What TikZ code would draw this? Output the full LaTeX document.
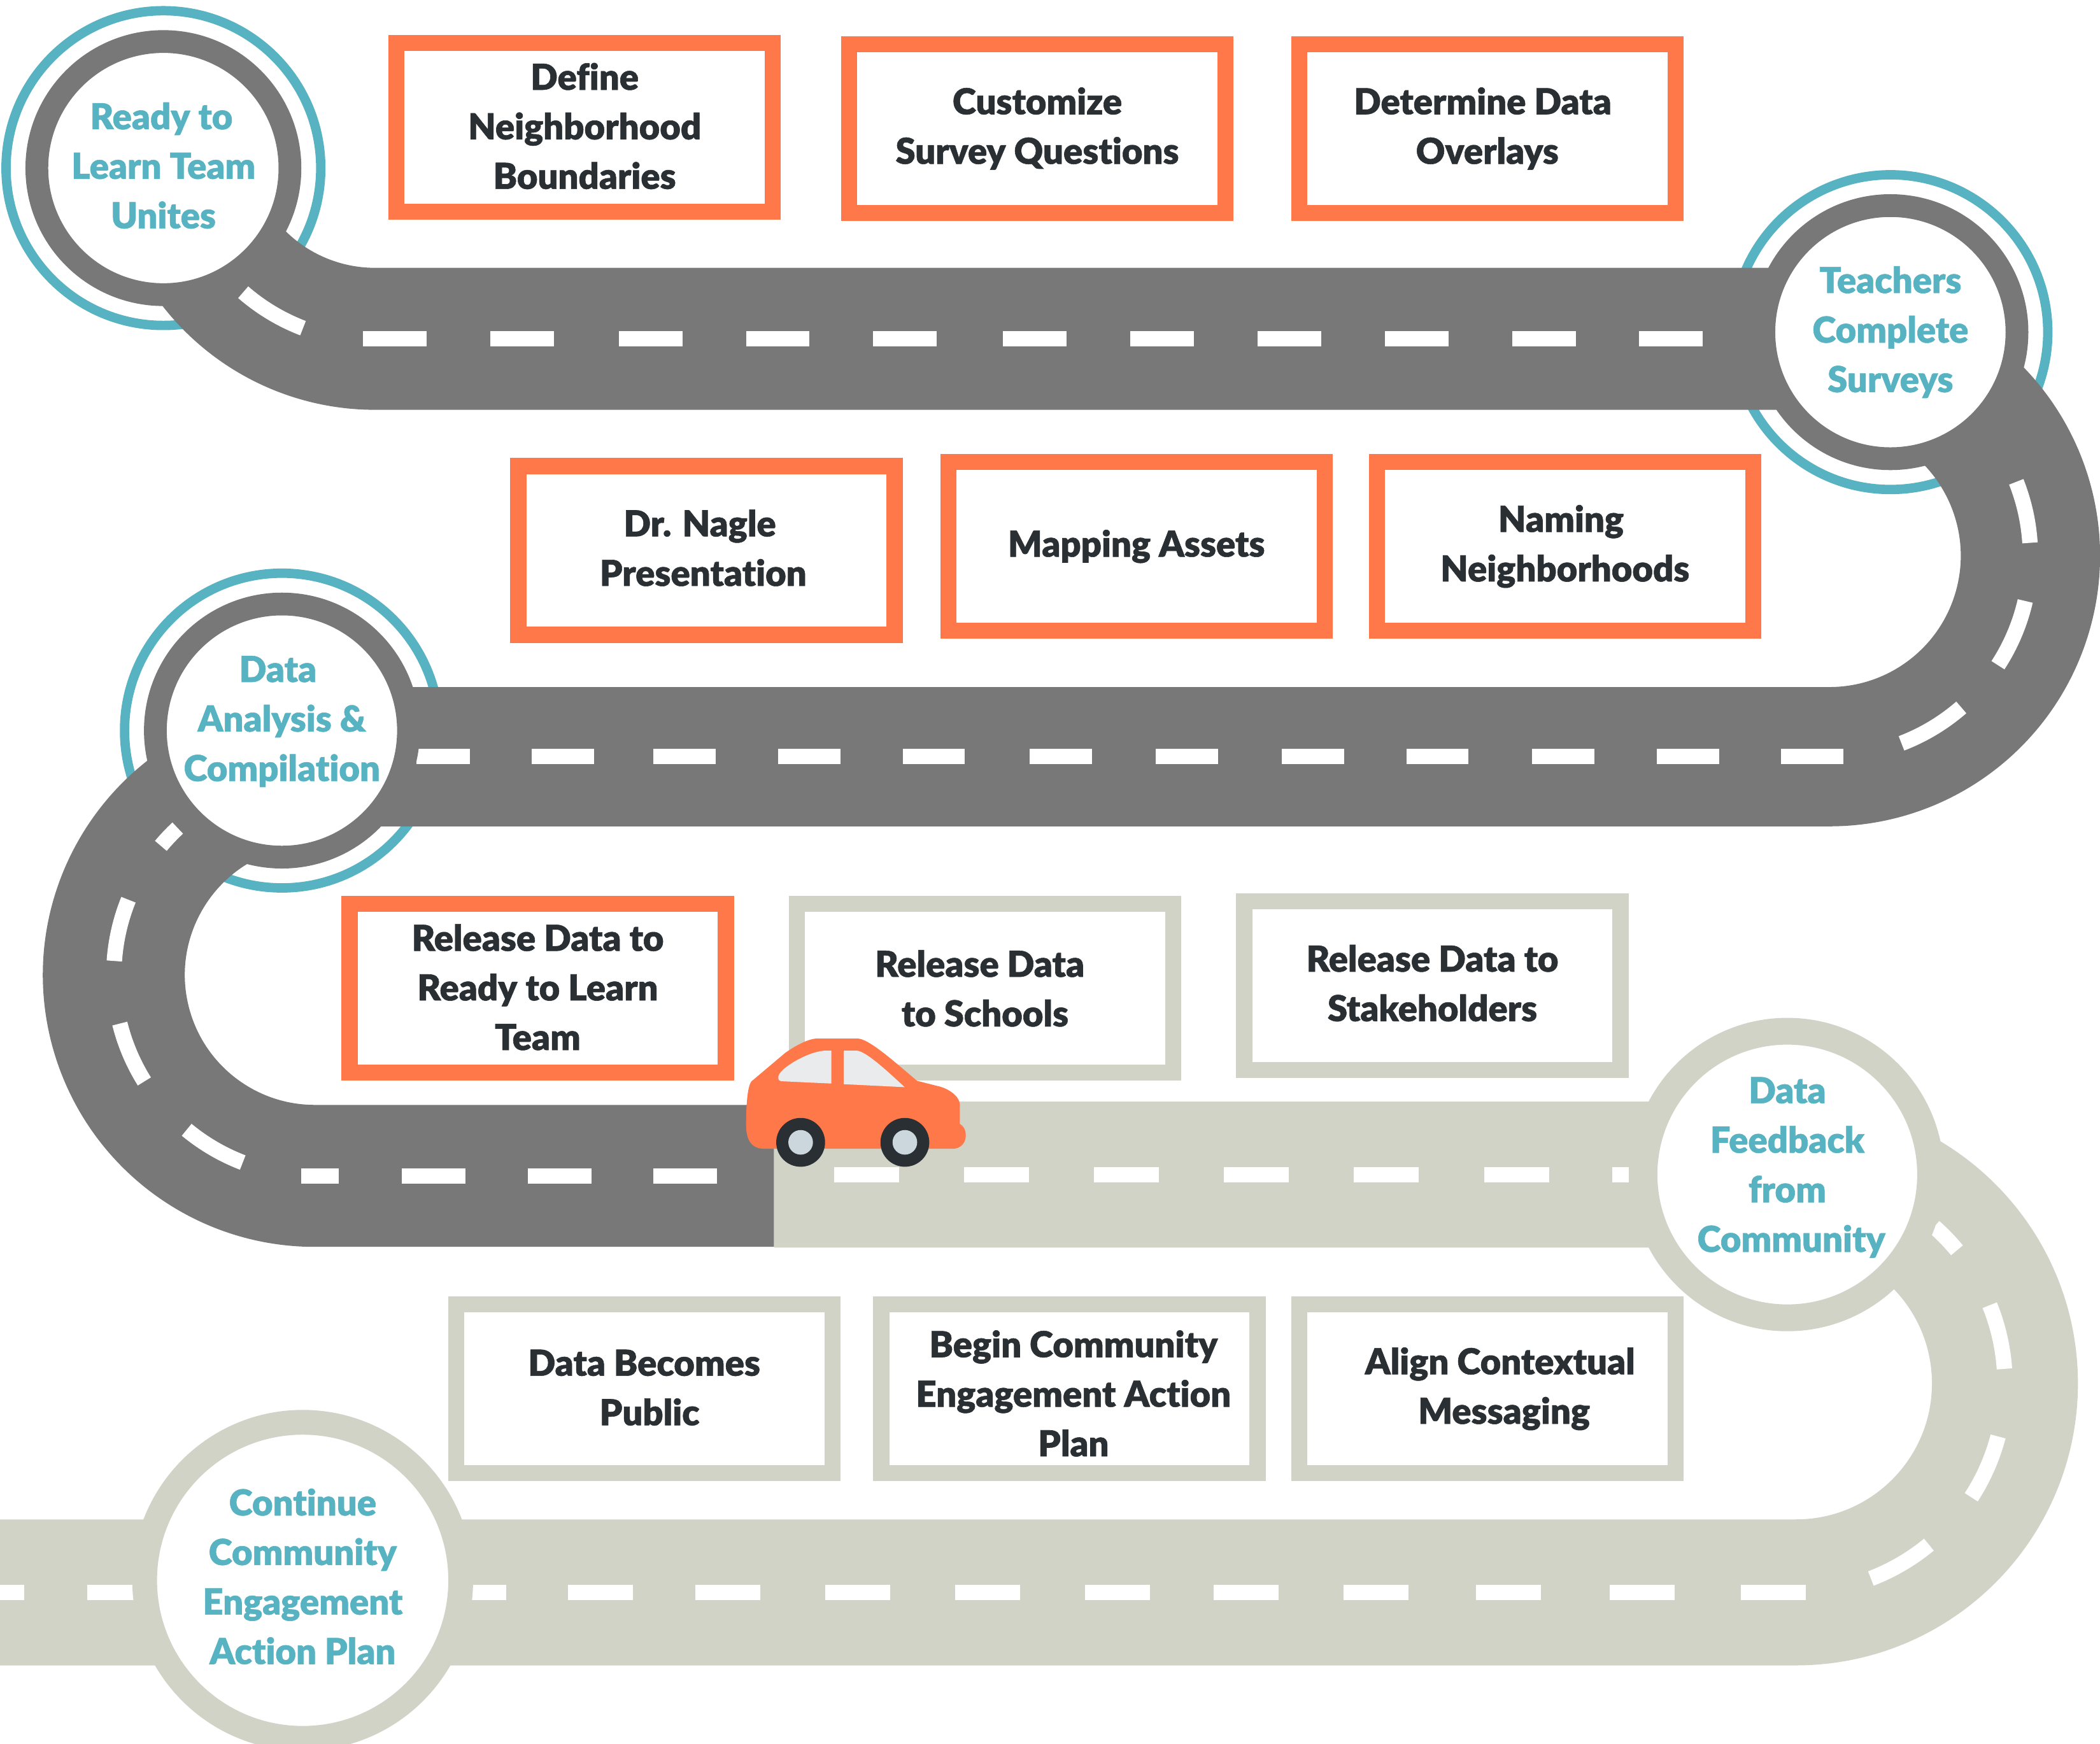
\documentclass[tikz,border=0pt]{standalone}
\usepackage{fontspec}
\setmainfont{Lato}[BoldFont={Lato Black},BoldFeatures={FakeBold=1},Ligatures=NoCommon]
\usetikzlibrary{
        backgrounds,
        calc
    }
\definecolor{roadgrey}{HTML}{787878}
\definecolor{roadsand}{HTML}{D1D3C7}
\definecolor{stopteal}{HTML}{57B2C1}
\definecolor{carorange}{HTML}{FF784A}
\definecolor{inkdark}{HTML}{292F33}
\definecolor{glass}{HTML}{E9EBED}
\definecolor{hubcap}{HTML}{CCD6DD}
\tikzset{x=1pt,y=1pt,line join=round}
\tikzset{road/.style={line width=#1},road/.default=106}
\tikzset{lane/.style={draw=white,line width=11.5}}
\tikzset{stop/.style={circle,fill=white,inner sep=0pt,text=stopteal,align=center,
        font=\bfseries\fontsize{26.7}{37}\selectfont}}
\tikzset{stopdone/.style={stop,draw=roadgrey,line width=17,minimum size=189}}
\tikzset{stopnext/.style={stop,draw=roadsand,line width=20,minimum size=214}}
\tikzset{halo/.style={circle,draw=stopteal,line width=7,minimum size=235,inner sep=0pt}}
\tikzset{task/.style={draw=#1,line width=12,fill=white,minimum width=281,minimum height=126,
        inner sep=0pt,text=inkdark,align=center,font=\bfseries\fontsize{26.7}{37}\selectfont}}
\newcommand{\nudge}[1]{\hspace*{#1pt}}
\newcommand{\lift}[1]{\rule[-#1pt]{0pt}{#1pt}}
\newcommand{\drop}[1]{\rule{0pt}{#1pt}}

\begin{document}
\begin{tikzpicture}[yscale=-1]
                        \useasboundingbox (0,0) rectangle (1568,1302);
                        \coordinate (bendA) at (280,105);
                        \coordinate (bendB) at (1366,415);
                        \coordinate (bendC) at (235,728);
                        \coordinate (bendD) at (1341,1033);
                        \coordinate (roadEnd) at (0,1189);
                        % stops
                        \node[stopdone] (ready) at (122,125.5) {\nudge{-3}Ready to\\Learn Team\\Unites\lift{4}};
                        \node[stopdone] (teachers) at (1411.5,248) {Teachers\\Complete\\Surveys};
                        \node[stopdone] (analysis) at (210.5,545.5) {\nudge{-6}Data\\Analysis \&\\Compilation\lift{18}};
                        \node[stopnext] (feedback) at (1334.5,877) {Data\\Feedback\\from\\\nudge{6}Community\lift{15}};
                        \node[stopnext,line width=18.5,minimum size=236] (community) at (226,1180) {Continue\\Community\\Engagement\\Action Plan\lift{6}};
                        % tasks
                        \node[task=carorange] (boundaries) at (436.5,95) {Define\\Neighborhood\\Boundaries\lift{2}};
                        \node[task=carorange] (questions) at (774.5,96) {Customize\\Survey Questions};
                        \node[task=carorange] (overlays) at (1110.5,96) {\nudge{-7}Determine Data\\Overlays};
                        \node[task=carorange] (nagle) at (527.5,411) {\nudge{-10}Dr. Nagle\\\nudge{-5}Presentation\lift{4}};
                        \node[task=carorange] (assets) at (848.5,408) {Mapping Assets};
                        \node[task=carorange] (naming) at (1168.5,408) {\nudge{-6}Naming\\Neighborhoods};
                        \node[task=carorange] (releaseTeam) at (401.5,738) {Release Data to\\Ready to Learn\\Team\lift{2}};
                        \node[task=roadsand] (releaseSchools) at (735.5,738) {\nudge{-8}Release Data\\to Schools};
                        \node[task=roadsand] (releaseHolders) at (1069.5,736) {Release Data to\\Stakeholders\lift{4}};
                        \node[task=roadsand] (goesPublic) at (481,1037) {Data Becomes\\\nudge{8}Public\lift{2}};
                        \node[task=roadsand] (beginPlan) at (798.5,1037) {\nudge{6}\drop{27}Begin Community\\\nudge{6}Engagement Action\\\nudge{6}Plan};
                        \node[task=roadsand] (messaging) at (1110.5,1037) {\nudge{19}Align Contextual\\\nudge{25}Messaging};
                        % roads
                        \begin{scope}[on background layer]
                            \node[halo] (readyHalo) at (ready) {};
                            \node[halo] (teachersHalo) at (teachers) {};
                            \node[halo] (analysisHalo) at (analysis) {};
                            \draw[road,draw=roadgrey] (ready.center) -- ($(bendA)+(150:148)$) arc (150:90:148)
                                -- (1400,253) -- (teachers.center);
                            \draw[road=104,draw=roadgrey] (teachers.center) -- ($(bendB)+(-72:150)$) arc (-72:90:150)
                                -- (230,565) -- (analysis.center);
                            \draw[road,draw=roadgrey] (analysis.center) -- ($(bendC)+(255:150)$) arc (255:90:150)
                                -- (578,878);
                            \draw[road=109,draw=roadsand] (578,877) -- (feedback.center) -- (1341,877) arc (-90:90:156)
                                -- (roadEnd);
                            % lane marks
                            \foreach \x in {271,366,462,557,652,749,844,939,1034,1129,1224}
                                \draw[lane] (\x,253) -- ++(47.5,0);
                            \foreach \x in {397,488,581,674,769,863,957,1050,1144,1237,1330}
                                \draw[lane] (\x,565) -- ++(46.5,0);
                            \draw[lane] (311,565) -- (351,565);
                            \foreach \x in {300,394,488}
                                \draw[lane] (\x,878) -- ++(47.5,0);
                            \draw[lane] (225,878) -- (253,878);
                            \foreach \x in {623,720,817,914,1011,1108}
                                \draw[lane] (\x,877) -- ++(48.5,0);
                            \draw[lane] (1204,877) -- (1216,877);
                            \foreach \x in {424,519,616,713,810,906,1003,1102,1202,1300}
                                \draw[lane] (\x,1189) -- ++(48.5,0);
                            \draw[lane] (351,1189) -- (378,1189);
                            \draw[lane] (65,1189) -- (102,1189);
                            \draw[lane] (0,1189) -- (18,1189);
                            \foreach \a/\b in {131/111}
                                \draw[lane] ($(bendA)+(\a:150)$) arc (\a:\b:150);
                            \foreach \a/\b in {-21.6/-3.7,13/33,49/69}
                                \draw[lane] ($(bendB)+(\a:150)$) arc (\a:\b:150);
                            \foreach \a/\b in {227/220,202/184,166/148,129.6/111}
                                \draw[lane] ($(bendC)+(\a:150)$) arc (\a:\b:150);
                            \foreach \a/\b in {-48.6/-39.6,-22/-4,14.7/33,50.5/69}
                                \draw[lane] ($(bendD)+(\a:156)$) arc (\a:\b:156);
                        \end{scope}
                        % car
                        \begin{scope}[shift={(523,741.7)},scale=0.1585]
                            \fill[carorange] (215,620) .. controls (215,540) and (220,440) .. (240,415)
                                -- (400,280) .. controls (450,245) and (510,213) .. (550,213)
                                -- (740,213) .. controls (790,213) and (900,310) .. (1020,412)
                                -- (1130,440) .. controls (1180,455) and (1222,490) .. (1222,525)
                                -- (1222,615) .. controls (1240,625) and (1250,645) .. (1250,670)
                                .. controls (1250,705) and (1225,732) .. (1190,732)
                                -- (300,732) .. controls (240,732) and (215,690) .. (215,620) -- cycle;
                            \fill[glass] (617,270) -- (617,425) -- (380,414) .. controls (365,412) and (362,395) .. (372,380)
                                .. controls (395,340) and (520,270) .. (590,270) -- cycle;
                            \fill[glass] (675,270) -- (675,428) -- (962,442) .. controls (900,385) and (780,270) .. (735,270) -- cycle;
                            \foreach \x in {472,963} {
                                \fill[inkdark] (\x,702) circle (115);
                                \fill[hubcap] (\x,702) circle (58);
                            }
                        \end{scope}
                    \end{tikzpicture}
\end{document}
